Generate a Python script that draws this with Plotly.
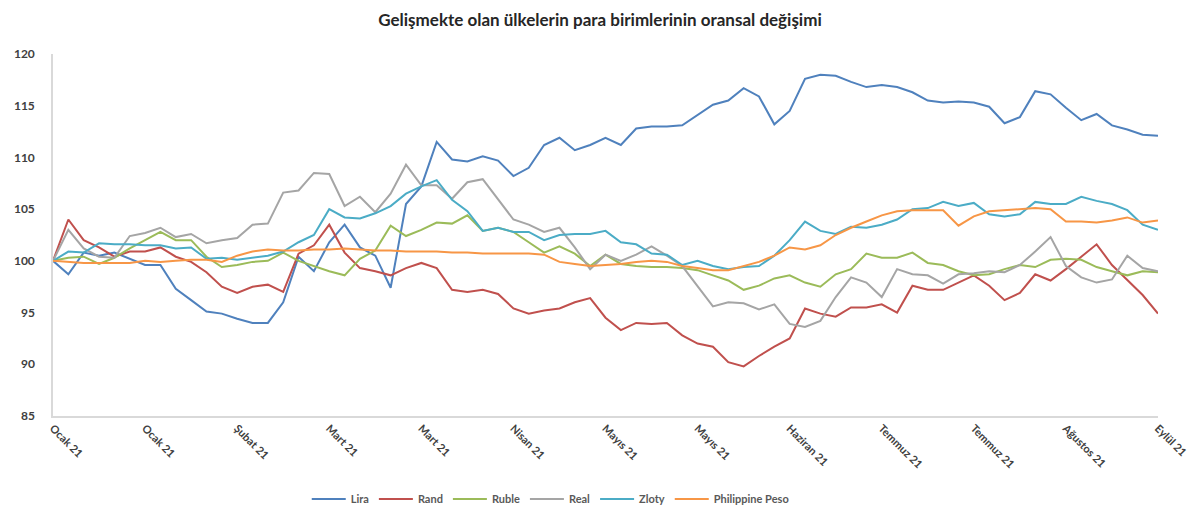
import plotly.graph_objects as go

# x tick labels (one label every 6 samples)
tick_labels = ["Ocak 21", "Ocak 21", "Şubat 21", "Mart 21", "Mart 21", "Nisan 21",
               "Mayıs 21", "Mayıs 21", "Haziran 21", "Temmuz 21", "Temmuz 21",
               "Ağustos 21", "Eylül 21"]

lira = [100.0, 98.7, 100.8, 100.5, 100.8, 100.2, 99.6, 99.6, 97.3, 96.2, 95.1, 94.9, 94.4,
        94.0, 94.0, 96.0, 100.4, 99.0, 101.8, 103.5, 101.3, 100.5, 97.4, 105.5, 107.2,
        111.5, 109.8, 109.6, 110.1, 109.7, 108.2, 109.0, 111.2, 111.9, 110.7, 111.2, 111.9,
        111.2, 112.8, 113.0, 113.0, 113.1, 114.1, 115.1, 115.5, 116.7, 115.9, 113.2, 114.5,
        117.6, 118.0, 117.9, 117.3, 116.8, 117.0, 116.8, 116.3, 115.5, 115.3, 115.4, 115.3,
        114.9, 113.3, 113.9, 116.4, 116.1, 114.8, 113.6, 114.2, 113.1, 112.7, 112.2, 112.1]

rand = [100.0, 104.0, 102.0, 101.3, 100.4, 100.9, 100.9, 101.3, 100.4, 99.9, 98.9, 97.5, 96.9,
        97.5, 97.7, 97.0, 100.7, 101.5, 103.5, 100.8, 99.3, 99.0, 98.6, 99.3, 99.8,
        99.3, 97.2, 97.0, 97.2, 96.8, 95.4, 94.9, 95.2, 95.4, 96.0, 96.4, 94.5,
        93.3, 94.0, 93.9, 94.0, 92.8, 92.0, 91.7, 90.2, 89.8, 90.8, 91.7, 92.5,
        95.4, 94.9, 94.6, 95.5, 95.5, 95.8, 95.0, 97.6, 97.2, 97.2, 97.9, 98.6,
        97.6, 96.2, 96.9, 98.7, 98.1, 99.2, 100.4, 101.6, 99.6, 98.1, 96.7, 94.9]

ruble = [100.0, 100.3, 100.4, 99.7, 100.3, 101.2, 102.0, 102.8, 102.0, 102.0, 100.4, 99.4, 99.6,
         99.9, 100.0, 100.8, 100.0, 99.5, 99.0, 98.6, 100.2, 101.0, 103.4, 102.4, 103.0,
         103.7, 103.6, 104.4, 102.9, 103.2, 102.8, 101.8, 100.8, 101.4, 100.7, 99.5, 100.6,
         99.7, 99.5, 99.4, 99.4, 99.3, 99.1, 98.6, 98.1, 97.2, 97.6, 98.3, 98.6,
         97.9, 97.5, 98.7, 99.2, 100.7, 100.3, 100.3, 100.8, 99.8, 99.6, 99.0, 98.6,
         98.7, 99.2, 99.6, 99.4, 100.1, 100.2, 100.1, 99.4, 99.0, 98.6, 99.0, 98.9]

real = [100.0, 103.0, 101.2, 100.4, 100.3, 102.4, 102.7, 103.2, 102.3, 102.6, 101.7, 102.0, 102.2,
        103.5, 103.6, 106.6, 106.8, 108.5, 108.4, 105.3, 106.2, 104.7, 106.5, 109.3, 107.3,
        107.3, 106.0, 107.6, 107.9, 105.9, 104.0, 103.5, 102.8, 103.2, 101.3, 99.2, 100.6,
        100.0, 100.6, 101.4, 100.5, 99.5, 97.5, 95.6, 96.0, 95.9, 95.3, 95.8, 93.9,
        93.6, 94.2, 96.5, 98.4, 97.9, 96.5, 99.2, 98.7, 98.6, 97.8, 98.7, 98.8,
        99.0, 98.9, 99.6, 100.9, 102.3, 99.5, 98.4, 97.9, 98.2, 100.5, 99.3, 99.0]

zloty = [100.0, 100.9, 100.8, 101.7, 101.6, 101.6, 101.5, 101.5, 101.2, 101.3, 100.2, 100.3, 100.1,
         100.3, 100.5, 100.9, 101.8, 102.5, 105.0, 104.2, 104.1, 104.6, 105.3, 106.5, 107.2,
         107.8, 105.9, 104.8, 102.9, 103.2, 102.8, 102.8, 102.0, 102.5, 102.6, 102.6, 102.9,
         101.8, 101.6, 100.7, 100.6, 99.6, 100.0, 99.5, 99.2, 99.4, 99.5, 100.5, 102.0,
         103.8, 102.9, 102.6, 103.3, 103.2, 103.5, 104.0, 105.0, 105.1, 105.7, 105.3, 105.6,
         104.5, 104.3, 104.5, 105.7, 105.5, 105.5, 106.2, 105.8, 105.5, 104.9, 103.5, 103.0]

peso = [100.0, 99.9, 99.8, 99.8, 99.8, 99.8, 100.0, 99.9, 100.0, 100.1, 100.1, 99.9, 100.5,
        100.9, 101.1, 101.0, 101.0, 101.1, 101.1, 101.2, 101.1, 101.0, 101.0, 100.9, 100.9,
        100.9, 100.8, 100.8, 100.7, 100.7, 100.7, 100.7, 100.6, 99.9, 99.7, 99.5, 99.6,
        99.7, 99.9, 100.0, 99.9, 99.5, 99.3, 99.1, 99.1, 99.5, 99.9, 100.5, 101.3,
        101.1, 101.5, 102.5, 103.2, 103.8, 104.4, 104.8, 104.9, 104.9, 104.9, 103.4, 104.3,
        104.8, 104.9, 105.0, 105.1, 105.0, 103.8, 103.8, 103.7, 103.9, 104.2, 103.7, 103.9]

series = [
    ("Lira", lira, "#4f81bd"),
    ("Rand", rand, "#c0504d"),
    ("Ruble", ruble, "#9bbb59"),
    ("Real", real, "#a5a5a5"),
    ("Zloty", zloty, "#4bacc6"),
    ("Philippine Peso", peso, "#f79646"),
]

x = list(range(len(lira)))
step = (len(lira) - 1) // (len(tick_labels) - 1)

fig = go.Figure()
for name, vals, color in series:
    fig.add_trace(go.Scatter(x=x, y=vals, mode="lines", name="<b>%s</b>" % name,
                             line=dict(color=color, width=2)))

yticks = [85, 90, 95, 100, 105, 110, 115, 120]

# page body has an 8px margin, so the figure is sized to fit inside it
fig.update_layout(
    width=1184, height=497,
    paper_bgcolor="white", plot_bgcolor="white",
    margin=dict(l=45, r=34, t=46, b=89),
    font=dict(family="Lato", color="#404040"),
    title=dict(text="<b>Gelişmekte olan ülkelerin para birimlerinin oransal değişimi</b>",
               x=0.5, xanchor="center", y=0.976, yanchor="middle",
               font=dict(size=17, color="#262626"), automargin=False),
    xaxis=dict(
        range=[0, len(lira) - 1],
        tickvals=[i * step for i in range(len(tick_labels))],
        ticktext=["<b>%s</b>" % t for t in tick_labels],
        tickangle=45, tickfont=dict(size=11, color="#404040"),
        showgrid=False, zeroline=False, automargin=False,
        showline=True, linecolor="#d9d9d9", linewidth=1.5, ticks="",
    ),
    yaxis=dict(
        range=[85, 120], tickvals=yticks,
        ticktext=["<b>%d</b>" % v for v in yticks],
        tickfont=dict(size=12, color="#404040"),
        showgrid=False, zeroline=False, automargin=False,
        showline=True, linecolor="#d9d9d9", linewidth=1.5, ticks="",
        ticklabelstandoff=14,
    ),
    legend=dict(orientation="h", x=0.45, xanchor="center",
                yref="container", y=0.012, yanchor="middle",
                font=dict(size=11, color="#595959"), itemwidth=34,
                traceorder="normal"),
    showlegend=True,
)

fig.write_html("out.html")
